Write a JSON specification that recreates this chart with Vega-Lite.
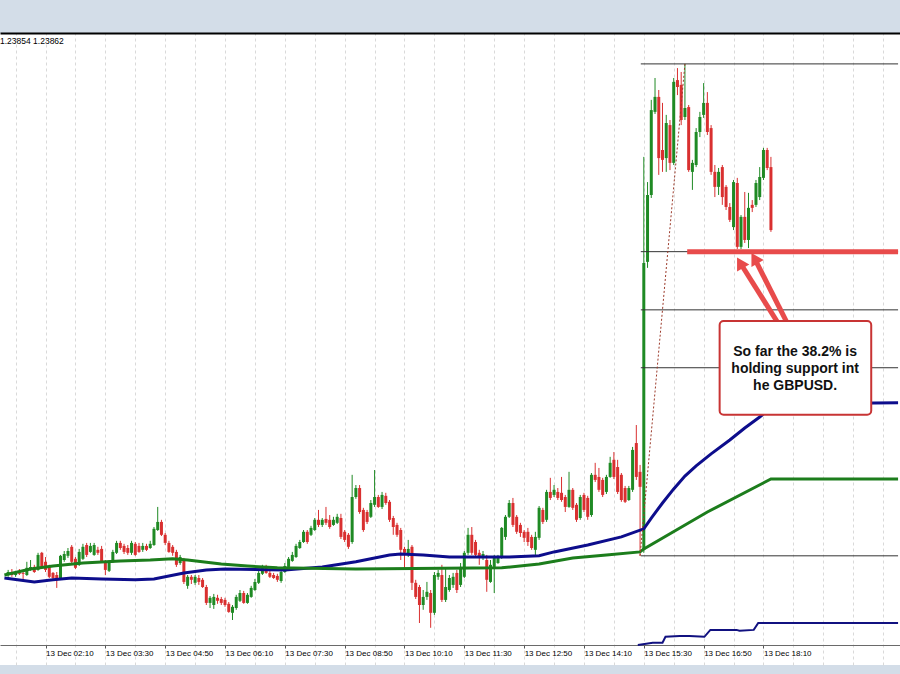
{
  "$schema": "https://vega.github.io/schema/vega-lite/v6.json",
  "width": 900,
  "height": 632,
  "autosize": {"type": "none"},
  "padding": {"left": 0, "top": 33, "right": 0, "bottom": 9},
  "background": "#d3dde8",
  "title": {"text": "1.23854 1.23862", "anchor": "start", "orient": "top", "frame": "group", "offset": -12, "font": "Liberation Sans", "fontSize": 8.5, "fontWeight": "normal", "color": "#000000"},
  "config": {"view": {"stroke": null, "fill": "#ffffff"}},
  "resolve": {"axis": {"x": "independent"}},
  "datasets": {
    "candles": [
      {"t":80,"o":1.22753,"h":1.22770,"l":1.22747,"c":1.22763},
      {"t":85,"o":1.22763,"h":1.22773,"l":1.22747,"c":1.22753},
      {"t":90,"o":1.22753,"h":1.22767,"l":1.22747,"c":1.22760},
      {"t":95,"o":1.22763,"h":1.22773,"l":1.22753,"c":1.22757},
      {"t":100,"o":1.22760,"h":1.22767,"l":1.22737,"c":1.22757},
      {"t":105,"o":1.22753,"h":1.22797,"l":1.22750,"c":1.22777},
      {"t":110,"o":1.22770,"h":1.22803,"l":1.22767,"c":1.22780},
      {"t":115,"o":1.22780,"h":1.22787,"l":1.22760,"c":1.22763},
      {"t":120,"o":1.22770,"h":1.22827,"l":1.22767,"c":1.22820},
      {"t":125,"o":1.22827,"h":1.22830,"l":1.22777,"c":1.22780},
      {"t":130,"o":1.22797,"h":1.22813,"l":1.22763,"c":1.22770},
      {"t":135,"o":1.22780,"h":1.22787,"l":1.22743,"c":1.22747},
      {"t":140,"o":1.22760,"h":1.22763,"l":1.22737,"c":1.22743},
      {"t":145,"o":1.22753,"h":1.22763,"l":1.22710,"c":1.22737},
      {"t":150,"o":1.22740,"h":1.22820,"l":1.22737,"c":1.22817},
      {"t":155,"o":1.22803,"h":1.22833,"l":1.22797,"c":1.22823},
      {"t":160,"o":1.22817,"h":1.22843,"l":1.22810,"c":1.22833},
      {"t":165,"o":1.22847,"h":1.22853,"l":1.22793,"c":1.22797},
      {"t":170,"o":1.22807,"h":1.22813,"l":1.22773,"c":1.22777},
      {"t":175,"o":1.22787,"h":1.22840,"l":1.22783,"c":1.22830},
      {"t":180,"o":1.22807,"h":1.22857,"l":1.22803,"c":1.22847},
      {"t":185,"o":1.22853,"h":1.22860,"l":1.22813,"c":1.22820},
      {"t":190,"o":1.22830,"h":1.22860,"l":1.22827,"c":1.22850},
      {"t":195,"o":1.22820,"h":1.22860,"l":1.22817,"c":1.22853},
      {"t":200,"o":1.22837,"h":1.22847,"l":1.22820,"c":1.22827},
      {"t":205,"o":1.22840,"h":1.22850,"l":1.22793,"c":1.22797},
      {"t":210,"o":1.22797,"h":1.22803,"l":1.22753,"c":1.22770},
      {"t":215,"o":1.22767,"h":1.22803,"l":1.22763,"c":1.22797},
      {"t":220,"o":1.22797,"h":1.22837,"l":1.22793,"c":1.22830},
      {"t":225,"o":1.22827,"h":1.22867,"l":1.22823,"c":1.22860},
      {"t":230,"o":1.22860,"h":1.22867,"l":1.22837,"c":1.22843},
      {"t":235,"o":1.22850,"h":1.22857,"l":1.22823,"c":1.22830},
      {"t":240,"o":1.22843,"h":1.22853,"l":1.22820,"c":1.22827},
      {"t":245,"o":1.22827,"h":1.22867,"l":1.22820,"c":1.22860},
      {"t":250,"o":1.22857,"h":1.22863,"l":1.22817,"c":1.22820},
      {"t":255,"o":1.22850,"h":1.22860,"l":1.22827,"c":1.22830},
      {"t":260,"o":1.22837,"h":1.22860,"l":1.22830,"c":1.22850},
      {"t":265,"o":1.22850,"h":1.22857,"l":1.22833,"c":1.22837},
      {"t":270,"o":1.22843,"h":1.22867,"l":1.22840,"c":1.22857},
      {"t":275,"o":1.22853,"h":1.22913,"l":1.22850,"c":1.22907},
      {"t":280,"o":1.22903,"h":1.22980,"l":1.22900,"c":1.22930},
      {"t":285,"o":1.22930,"h":1.22937,"l":1.22883,"c":1.22887},
      {"t":290,"o":1.22887,"h":1.22893,"l":1.22853,"c":1.22860},
      {"t":295,"o":1.22860,"h":1.22867,"l":1.22827,"c":1.22830},
      {"t":300,"o":1.22847,"h":1.22853,"l":1.22817,"c":1.22827},
      {"t":305,"o":1.22830,"h":1.22837,"l":1.22780,"c":1.22787},
      {"t":310,"o":1.22793,"h":1.22820,"l":1.22787,"c":1.22813},
      {"t":315,"o":1.22803,"h":1.22810,"l":1.22723,"c":1.22730},
      {"t":320,"o":1.22717,"h":1.22753,"l":1.22707,"c":1.22747},
      {"t":325,"o":1.22747,"h":1.22753,"l":1.22723,"c":1.22737},
      {"t":330,"o":1.22727,"h":1.22753,"l":1.22720,"c":1.22747},
      {"t":335,"o":1.22743,"h":1.22753,"l":1.22720,"c":1.22730},
      {"t":340,"o":1.22737,"h":1.22743,"l":1.22710,"c":1.22713},
      {"t":345,"o":1.22713,"h":1.22720,"l":1.22653,"c":1.22660},
      {"t":350,"o":1.22660,"h":1.22683,"l":1.22643,"c":1.22677},
      {"t":355,"o":1.22653,"h":1.22690,"l":1.22640,"c":1.22680},
      {"t":360,"o":1.22677,"h":1.22687,"l":1.22657,"c":1.22667},
      {"t":365,"o":1.22673,"h":1.22680,"l":1.22653,"c":1.22660},
      {"t":370,"o":1.22670,"h":1.22677,"l":1.22647,"c":1.22653},
      {"t":375,"o":1.22657,"h":1.22663,"l":1.22627,"c":1.22630},
      {"t":380,"o":1.22627,"h":1.22653,"l":1.22603,"c":1.22647},
      {"t":385,"o":1.22643,"h":1.22687,"l":1.22637,"c":1.22680},
      {"t":390,"o":1.22667,"h":1.22703,"l":1.22663,"c":1.22693},
      {"t":395,"o":1.22693,"h":1.22700,"l":1.22657,"c":1.22660},
      {"t":400,"o":1.22660,"h":1.22693,"l":1.22657,"c":1.22687},
      {"t":405,"o":1.22680,"h":1.22717,"l":1.22677,"c":1.22710},
      {"t":410,"o":1.22703,"h":1.22740,"l":1.22700,"c":1.22730},
      {"t":415,"o":1.22727,"h":1.22770,"l":1.22723,"c":1.22760},
      {"t":420,"o":1.22757,"h":1.22787,"l":1.22753,"c":1.22780},
      {"t":425,"o":1.22780,"h":1.22787,"l":1.22757,"c":1.22760},
      {"t":430,"o":1.22760,"h":1.22767,"l":1.22743,"c":1.22747},
      {"t":435,"o":1.22753,"h":1.22760,"l":1.22740,"c":1.22743},
      {"t":440,"o":1.22750,"h":1.22757,"l":1.22730,"c":1.22737},
      {"t":445,"o":1.22733,"h":1.22770,"l":1.22727,"c":1.22763},
      {"t":450,"o":1.22763,"h":1.22793,"l":1.22760,"c":1.22783},
      {"t":455,"o":1.22780,"h":1.22813,"l":1.22777,"c":1.22807},
      {"t":460,"o":1.22800,"h":1.22830,"l":1.22797,"c":1.22820},
      {"t":465,"o":1.22813,"h":1.22857,"l":1.22810,"c":1.22850},
      {"t":470,"o":1.22843,"h":1.22870,"l":1.22840,"c":1.22863},
      {"t":475,"o":1.22863,"h":1.22903,"l":1.22860,"c":1.22897},
      {"t":480,"o":1.22897,"h":1.22903,"l":1.22857,"c":1.22863},
      {"t":485,"o":1.22887,"h":1.22917,"l":1.22883,"c":1.22910},
      {"t":490,"o":1.22903,"h":1.22943,"l":1.22900,"c":1.22937},
      {"t":495,"o":1.22937,"h":1.22970,"l":1.22913,"c":1.22920},
      {"t":500,"o":1.22920,"h":1.22943,"l":1.22913,"c":1.22937},
      {"t":505,"o":1.22940,"h":1.22980,"l":1.22920,"c":1.22927},
      {"t":510,"o":1.22937,"h":1.22953,"l":1.22907,"c":1.22913},
      {"t":515,"o":1.22920,"h":1.22947,"l":1.22917,"c":1.22937},
      {"t":520,"o":1.22927,"h":1.22957,"l":1.22923,"c":1.22947},
      {"t":525,"o":1.22943,"h":1.22957,"l":1.22873,"c":1.22880},
      {"t":530,"o":1.22897,"h":1.22903,"l":1.22863,"c":1.22870},
      {"t":535,"o":1.22887,"h":1.22893,"l":1.22840,"c":1.22847},
      {"t":540,"o":1.22863,"h":1.23087,"l":1.22857,"c":1.23013},
      {"t":545,"o":1.23013,"h":1.23053,"l":1.23007,"c":1.23043},
      {"t":550,"o":1.23043,"h":1.23053,"l":1.22957,"c":1.22963},
      {"t":555,"o":1.22970,"h":1.22977,"l":1.22897,"c":1.22903},
      {"t":560,"o":1.22963,"h":1.22970,"l":1.22923,"c":1.22930},
      {"t":565,"o":1.22947,"h":1.23003,"l":1.22943,"c":1.22993},
      {"t":570,"o":1.22987,"h":1.23103,"l":1.22980,"c":1.23013},
      {"t":575,"o":1.23013,"h":1.23020,"l":1.22977,"c":1.22980},
      {"t":580,"o":1.22980,"h":1.23030,"l":1.22973,"c":1.23020},
      {"t":585,"o":1.23017,"h":1.23027,"l":1.22987,"c":1.22993},
      {"t":590,"o":1.22997,"h":1.23003,"l":1.22930,"c":1.22937},
      {"t":595,"o":1.22943,"h":1.22950,"l":1.22887,"c":1.22913},
      {"t":600,"o":1.22920,"h":1.22927,"l":1.22880,"c":1.22887},
      {"t":605,"o":1.22903,"h":1.22910,"l":1.22803,"c":1.22837},
      {"t":610,"o":1.22840,"h":1.22847,"l":1.22770,"c":1.22827},
      {"t":615,"o":1.22820,"h":1.22870,"l":1.22813,"c":1.22840},
      {"t":620,"o":1.22847,"h":1.22853,"l":1.22703,"c":1.22727},
      {"t":625,"o":1.22727,"h":1.22737,"l":1.22673,"c":1.22680},
      {"t":630,"o":1.22713,"h":1.22720,"l":1.22593,"c":1.22653},
      {"t":635,"o":1.22653,"h":1.22703,"l":1.22637,"c":1.22680},
      {"t":640,"o":1.22680,"h":1.22730,"l":1.22670,"c":1.22697},
      {"t":645,"o":1.22693,"h":1.22703,"l":1.22577,"c":1.22627},
      {"t":650,"o":1.22627,"h":1.22763,"l":1.22620,"c":1.22753},
      {"t":655,"o":1.22747,"h":1.22770,"l":1.22737,"c":1.22760},
      {"t":660,"o":1.22753,"h":1.22787,"l":1.22663,"c":1.22670},
      {"t":665,"o":1.22670,"h":1.22777,"l":1.22663,"c":1.22713},
      {"t":670,"o":1.22703,"h":1.22753,"l":1.22697,"c":1.22743},
      {"t":675,"o":1.22720,"h":1.22760,"l":1.22710,"c":1.22747},
      {"t":680,"o":1.22760,"h":1.22770,"l":1.22693,"c":1.22703},
      {"t":685,"o":1.22720,"h":1.22793,"l":1.22713,"c":1.22780},
      {"t":690,"o":1.22747,"h":1.22833,"l":1.22743,"c":1.22827},
      {"t":695,"o":1.22827,"h":1.22910,"l":1.22820,"c":1.22887},
      {"t":700,"o":1.22887,"h":1.22913,"l":1.22820,"c":1.22827},
      {"t":705,"o":1.22863,"h":1.22870,"l":1.22813,"c":1.22820},
      {"t":710,"o":1.22827,"h":1.22837,"l":1.22787,"c":1.22810},
      {"t":715,"o":1.22810,"h":1.22833,"l":1.22803,"c":1.22823},
      {"t":720,"o":1.22803,"h":1.22820,"l":1.22697,"c":1.22737},
      {"t":725,"o":1.22730,"h":1.22803,"l":1.22727,"c":1.22787},
      {"t":730,"o":1.22780,"h":1.22820,"l":1.22693,"c":1.22813},
      {"t":735,"o":1.22793,"h":1.22820,"l":1.22790,"c":1.22813},
      {"t":740,"o":1.22813,"h":1.22913,"l":1.22807,"c":1.22910},
      {"t":745,"o":1.22880,"h":1.22953,"l":1.22870,"c":1.22947},
      {"t":750,"o":1.22947,"h":1.23003,"l":1.22943,"c":1.22993},
      {"t":755,"o":1.22993,"h":1.23010,"l":1.22913,"c":1.22920},
      {"t":760,"o":1.22947,"h":1.22953,"l":1.22890,"c":1.22897},
      {"t":765,"o":1.22920,"h":1.22927,"l":1.22880,"c":1.22893},
      {"t":770,"o":1.22897,"h":1.22903,"l":1.22863,"c":1.22877},
      {"t":775,"o":1.22897,"h":1.22910,"l":1.22850,"c":1.22863},
      {"t":780,"o":1.22880,"h":1.22887,"l":1.22837,"c":1.22843},
      {"t":785,"o":1.22837,"h":1.22897,"l":1.22817,"c":1.22880},
      {"t":790,"o":1.22877,"h":1.22983,"l":1.22870,"c":1.22977},
      {"t":795,"o":1.22970,"h":1.22977,"l":1.22923,"c":1.22930},
      {"t":800,"o":1.22937,"h":1.23037,"l":1.22930,"c":1.23030},
      {"t":805,"o":1.23030,"h":1.23077,"l":1.23003,"c":1.23010},
      {"t":810,"o":1.23020,"h":1.23053,"l":1.23013,"c":1.23037},
      {"t":815,"o":1.23030,"h":1.23043,"l":1.23003,"c":1.23010},
      {"t":820,"o":1.23027,"h":1.23080,"l":1.22997,"c":1.23003},
      {"t":825,"o":1.23013,"h":1.23020,"l":1.22963,"c":1.22980},
      {"t":830,"o":1.22980,"h":1.23097,"l":1.22977,"c":1.23037},
      {"t":835,"o":1.23037,"h":1.23043,"l":1.22970,"c":1.22977},
      {"t":840,"o":1.22987,"h":1.22993,"l":1.22930,"c":1.22937},
      {"t":845,"o":1.22943,"h":1.23020,"l":1.22937,"c":1.23013},
      {"t":850,"o":1.23020,"h":1.23027,"l":1.22963,"c":1.22970},
      {"t":855,"o":1.23010,"h":1.23017,"l":1.22937,"c":1.22947},
      {"t":860,"o":1.22953,"h":1.23093,"l":1.22947,"c":1.23087},
      {"t":865,"o":1.23087,"h":1.23127,"l":1.23063,"c":1.23070},
      {"t":870,"o":1.23080,"h":1.23110,"l":1.23030,"c":1.23037},
      {"t":875,"o":1.23070,"h":1.23077,"l":1.23013,"c":1.23020},
      {"t":880,"o":1.23030,"h":1.23087,"l":1.23023,"c":1.23080},
      {"t":885,"o":1.23080,"h":1.23147,"l":1.23077,"c":1.23127},
      {"t":890,"o":1.23137,"h":1.23163,"l":1.23073,"c":1.23080},
      {"t":895,"o":1.23113,"h":1.23137,"l":1.23023,"c":1.23030},
      {"t":900,"o":1.23087,"h":1.23093,"l":1.22997,"c":1.23003},
      {"t":905,"o":1.23043,"h":1.23050,"l":1.22993,"c":1.22997},
      {"t":910,"o":1.23003,"h":1.23050,"l":1.23000,"c":1.23043},
      {"t":915,"o":1.23037,"h":1.23180,"l":1.23030,"c":1.23170},
      {"t":920,"o":1.23193,"h":1.23253,"l":1.23070,"c":1.23080},
      {"t":925,"o":1.23097,"h":1.23120,"l":1.22817,"c":1.23047},
      {"t":930,"o":1.22837,"h":1.24147,"l":1.22827,"c":1.23793},
      {"t":935,"o":1.23797,"h":1.24063,"l":1.23777,"c":1.24020},
      {"t":940,"o":1.24020,"h":1.24337,"l":1.24010,"c":1.24303},
      {"t":945,"o":1.24297,"h":1.24410,"l":1.24290,"c":1.24347},
      {"t":950,"o":1.24347,"h":1.24370,"l":1.24087,"c":1.24143},
      {"t":955,"o":1.24170,"h":1.24327,"l":1.24097,"c":1.24137},
      {"t":960,"o":1.24143,"h":1.24287,"l":1.24097,"c":1.24260},
      {"t":965,"o":1.24253,"h":1.24270,"l":1.24103,"c":1.24127},
      {"t":970,"o":1.24127,"h":1.24410,"l":1.24120,"c":1.24397},
      {"t":975,"o":1.24403,"h":1.24443,"l":1.24353,"c":1.24380},
      {"t":980,"o":1.24387,"h":1.24430,"l":1.24253,"c":1.24270},
      {"t":985,"o":1.24280,"h":1.24457,"l":1.24270,"c":1.24310},
      {"t":990,"o":1.24313,"h":1.24320,"l":1.24097,"c":1.24103},
      {"t":995,"o":1.24097,"h":1.24137,"l":1.24037,"c":1.24127},
      {"t":1000,"o":1.24120,"h":1.24243,"l":1.24113,"c":1.24230},
      {"t":1005,"o":1.24230,"h":1.24297,"l":1.24213,"c":1.24280},
      {"t":1010,"o":1.24287,"h":1.24393,"l":1.24277,"c":1.24327},
      {"t":1015,"o":1.24327,"h":1.24363,"l":1.24220,"c":1.24230},
      {"t":1020,"o":1.24243,"h":1.24253,"l":1.24087,"c":1.24097},
      {"t":1025,"o":1.24097,"h":1.24120,"l":1.24013,"c":1.24047},
      {"t":1030,"o":1.24047,"h":1.24110,"l":1.24020,"c":1.24097},
      {"t":1035,"o":1.24113,"h":1.24120,"l":1.23987,"c":1.24013},
      {"t":1040,"o":1.24047,"h":1.24053,"l":1.23970,"c":1.23980},
      {"t":1045,"o":1.23980,"h":1.23993,"l":1.23930,"c":1.23937},
      {"t":1050,"o":1.23913,"h":1.24070,"l":1.23903,"c":1.24063},
      {"t":1055,"o":1.24060,"h":1.24077,"l":1.23840,"c":1.23847},
      {"t":1060,"o":1.23847,"h":1.23953,"l":1.23840,"c":1.23947},
      {"t":1065,"o":1.23947,"h":1.24030,"l":1.23860,"c":1.23870},
      {"t":1070,"o":1.23870,"h":1.24027,"l":1.23843,"c":1.23977},
      {"t":1075,"o":1.23987,"h":1.24003,"l":1.23963,"c":1.23977},
      {"t":1080,"o":1.23987,"h":1.24070,"l":1.23980,"c":1.24060},
      {"t":1085,"o":1.24013,"h":1.24113,"l":1.24003,"c":1.24080},
      {"t":1090,"o":1.24077,"h":1.24177,"l":1.24070,"c":1.24170},
      {"t":1095,"o":1.24170,"h":1.24177,"l":1.24103,"c":1.24110},
      {"t":1100,"o":1.24113,"h":1.24147,"l":1.23897,"c":1.23903}
    ],
    "blueMA": [
      {"t":75,"p":1.22743},{"t":115,"p":1.22730},{"t":140,"p":1.22737},{"t":165,"p":1.22743},
      {"t":205,"p":1.22740},{"t":250,"p":1.22737},{"t":275,"p":1.22740},{"t":295,"p":1.22750},
      {"t":315,"p":1.22760},{"t":345,"p":1.22770},{"t":370,"p":1.22773},{"t":450,"p":1.22770},
      {"t":500,"p":1.22780},{"t":545,"p":1.22797},{"t":590,"p":1.22820},{"t":605,"p":1.22823},
      {"t":635,"p":1.22820},{"t":670,"p":1.22813},{"t":750,"p":1.22813},{"t":790,"p":1.22817},
      {"t":810,"p":1.22830},{"t":855,"p":1.22853},{"t":900,"p":1.22880},{"t":930,"p":1.22907},
      {"t":940,"p":1.22943},{"t":955,"p":1.22993},{"t":970,"p":1.23040},{"t":985,"p":1.23083},
      {"t":1000,"p":1.23117},{"t":1020,"p":1.23157},{"t":1045,"p":1.23203},{"t":1065,"p":1.23243},
      {"t":1085,"p":1.23280},{"t":1100,"p":1.23310},{"t":1115,"p":1.23323},{"t":1270,"p":1.23327}
    ],
    "greenMA": [
      {"t":75,"p":1.22753},{"t":110,"p":1.22773},{"t":140,"p":1.22783},{"t":180,"p":1.22793},
      {"t":230,"p":1.22800},{"t":270,"p":1.22803},{"t":300,"p":1.22807},{"t":320,"p":1.22803},
      {"t":365,"p":1.22790},{"t":400,"p":1.22783},{"t":440,"p":1.22777},{"t":545,"p":1.22773},
      {"t":740,"p":1.22777},{"t":790,"p":1.22790},{"t":835,"p":1.22810},{"t":880,"p":1.22820},
      {"t":925,"p":1.22830},{"t":930,"p":1.22840},{"t":1015,"p":1.22963},{"t":1100,"p":1.23073},
      {"t":1270,"p":1.23073}
    ],
    "lowLine": [
      {"t":922,"p":1.22520},{"t":931,"p":1.22523},{"t":942,"p":1.22527},{"t":955,"p":1.22527},
      {"t":959,"p":1.22547},{"t":978,"p":1.22550},{"t":991,"p":1.22550},{"t":1011,"p":1.22547},
      {"t":1019,"p":1.22570},{"t":1054,"p":1.22570},{"t":1058,"p":1.22567},{"t":1077,"p":1.22570},
      {"t":1083,"p":1.22593},{"t":1270,"p":1.22593}
    ],
    "fib": [
      {"level":"0.0","p":1.24457},
      {"level":"38.2","p":1.23831},
      {"level":"50.0","p":1.23637},
      {"level":"61.8","p":1.23444},
      {"level":"100.0","p":1.22817}
    ],
    "trend": [{"t":925,"p":1.22817},{"t":985,"p":1.24457}],
    "support": [{"t0":988,"t1":1270,"p":1.23831}],
    "arrows": [
      {"t0":1111,"p0":1.23587,"t1":1058.8,"p1":1.23794},
      {"t0":1123,"p0":1.23587,"t1":1078,"p1":1.23809}
    ],
    "box": [{"t0":1031.4,"t1":1234.1,"p0":1.23600,"p1":1.23287}],
    "note": [
      {"t":1132.3,"p":1.23497,"text":"So far the 38.2% is"},
      {"t":1132.3,"p":1.23440,"text":"holding support int"},
      {"t":1132.3,"p":1.23383,"text":"he GBPUSD."}
    ]
  },
  "layer": [
    {
      "data": {"name": "candles"},
      "mark": {"type": "rule", "strokeWidth": 1},
      "encoding": {
        "x": {"field": "t", "type": "quantitative", "scale": {"domain": [75.8, 1265.9], "nice": false, "zero": false},
          "axis": {"orient": "bottom", "offset": -20, "values": [50,130,210,290,370,450,530,610,690,770,850,930,1010,1090],
            "labelExpr": "timeFormat(datetime(2022, 11, 13, 0, datum.value), '%d %b %H:%M')",
            "grid": false, "domainColor": "#6a6a6a", "domainWidth": 1, "tickColor": "#555555", "tickSize": 3,
            "labelFont": "Liberation Sans", "labelFontSize": 8, "labelColor": "#000000", "labelAlign": "left", "labelBaseline": "top",
            "labelPadding": 1, "labelOffset": 0, "labelOverlap": false, "labelFlush": false, "labelBound": false, "title": null}},
        "y": {"field": "l", "type": "quantitative", "scale": {"domain": [1.22453, 1.2456], "nice": false, "zero": false},
          "axis": {"orient": "left", "labels": false, "ticks": false, "domain": false, "grid": true, "gridColor": "#d9d9d9", "gridDash": [3, 3], "gridWidth": 1, "title": null,
            "values": [1.24537,1.24431,1.24326,1.24221,1.24115,1.24010,1.23905,1.23799,1.23694,1.23589,1.23483,1.23378,1.23273,1.23167,1.23062,1.22957,1.22851,1.22746,1.22641,1.22535]}},
        "y2": {"field": "h"},
        "color": {"condition": {"test": "datum.c >= datum.o", "value": "#1f8a24"}, "value": "#d93030"}
      }
    },
    {
      "data": {"name": "candles"},
      "mark": {"type": "bar", "size": 3},
      "encoding": {
        "x": {"field": "t", "type": "quantitative", "scale": {"domain": [75.8, 1265.9], "nice": false, "zero": false},
          "axis": {"orient": "top", "values": [50,90,130,170,210,250,290,330,370,410,450,490,530,570,610,650,690,730,770,810,850,890,930,970,1010,1050,1090,1130,1170,1210,1250],
            "labels": false, "ticks": false, "domain": true, "domainColor": "#000000", "domainWidth": 2,
            "grid": true, "gridColor": "#d9d9d9", "gridDash": [3, 3], "gridWidth": 1, "title": null}},
        "y": {"field": "o", "type": "quantitative", "scale": {"domain": [1.22453, 1.2456], "nice": false, "zero": false}, "axis": null},
        "y2": {"field": "c"},
        "color": {"condition": {"test": "datum.c >= datum.o", "value": "#1f8a24"}, "value": "#d93030"}
      }
    },
    {
      "data": {"name": "blueMA"},
      "mark": {"type": "line", "color": "#0d0d8c", "strokeWidth": 3},
      "encoding": {
        "x": {"field": "t", "type": "quantitative", "scale": {"domain": [75.8, 1265.9], "nice": false, "zero": false}, "axis": null},
        "y": {"field": "p", "type": "quantitative", "scale": {"domain": [1.22453, 1.2456], "nice": false, "zero": false}, "axis": null}
      }
    },
    {
      "data": {"name": "greenMA"},
      "mark": {"type": "line", "color": "#1c7d1c", "strokeWidth": 3},
      "encoding": {
        "x": {"field": "t", "type": "quantitative", "scale": {"domain": [75.8, 1265.9], "nice": false, "zero": false}, "axis": null},
        "y": {"field": "p", "type": "quantitative", "scale": {"domain": [1.22453, 1.2456], "nice": false, "zero": false}, "axis": null}
      }
    },
    {
      "data": {"name": "lowLine"},
      "mark": {"type": "line", "color": "#111180", "strokeWidth": 2},
      "encoding": {
        "x": {"field": "t", "type": "quantitative", "scale": {"domain": [75.8, 1265.9], "nice": false, "zero": false}, "axis": null},
        "y": {"field": "p", "type": "quantitative", "scale": {"domain": [1.22453, 1.2456], "nice": false, "zero": false}, "axis": null}
      }
    },
    {
      "data": {"name": "fib"},
      "mark": {"type": "rule", "color": "#333333", "strokeWidth": 1},
      "encoding": {
        "x": {"datum": 926, "type": "quantitative", "scale": {"domain": [75.8, 1265.9], "nice": false, "zero": false}, "axis": null},
        "x2": {"datum": 1270},
        "y": {"field": "p", "type": "quantitative", "scale": {"domain": [1.22453, 1.2456], "nice": false, "zero": false}, "axis": null}
      }
    },
    {
      "data": {"name": "trend"},
      "mark": {"type": "line", "color": "#9c3a2a", "strokeWidth": 1, "strokeDash": [2, 2]},
      "encoding": {
        "x": {"field": "t", "type": "quantitative", "scale": {"domain": [75.8, 1265.9], "nice": false, "zero": false}, "axis": null},
        "y": {"field": "p", "type": "quantitative", "scale": {"domain": [1.22453, 1.2456], "nice": false, "zero": false}, "axis": null}
      }
    },
    {
      "data": {"name": "support"},
      "mark": {"type": "rule", "color": "#e84b4b", "strokeWidth": 5},
      "encoding": {
        "x": {"field": "t0", "type": "quantitative", "scale": {"domain": [75.8, 1265.9], "nice": false, "zero": false}, "axis": null},
        "x2": {"field": "t1"},
        "y": {"field": "p", "type": "quantitative", "scale": {"domain": [1.22453, 1.2456], "nice": false, "zero": false}, "axis": null}
      }
    },
    {
      "data": {"name": "arrows"},
      "mark": {"type": "rule", "color": "#e84b4b", "strokeWidth": 5},
      "encoding": {
        "x": {"field": "t0", "type": "quantitative", "scale": {"domain": [75.8, 1265.9], "nice": false, "zero": false}, "axis": null},
        "x2": {"field": "t1"},
        "y": {"field": "p0", "type": "quantitative", "scale": {"domain": [1.22453, 1.2456], "nice": false, "zero": false}, "axis": null},
        "y2": {"field": "p1"}
      }
    },
    {
      "data": {"name": "arrows"},
      "mark": {"type": "point", "shape": "triangle-up", "filled": true, "size": 200, "angle": 330, "color": "#e84b4b", "opacity": 1},
      "encoding": {
        "x": {"field": "t1", "type": "quantitative", "scale": {"domain": [75.8, 1265.9], "nice": false, "zero": false}, "axis": null},
        "y": {"field": "p1", "type": "quantitative", "scale": {"domain": [1.22453, 1.2456], "nice": false, "zero": false}, "axis": null}
      }
    },
    {
      "data": {"name": "box"},
      "mark": {"type": "rect", "fill": "#ffffff", "stroke": "#c83434", "strokeWidth": 2, "cornerRadius": 4},
      "encoding": {
        "x": {"field": "t0", "type": "quantitative", "scale": {"domain": [75.8, 1265.9], "nice": false, "zero": false}, "axis": null},
        "x2": {"field": "t1"},
        "y": {"field": "p0", "type": "quantitative", "scale": {"domain": [1.22453, 1.2456], "nice": false, "zero": false}, "axis": null},
        "y2": {"field": "p1"}
      }
    },
    {
      "data": {"name": "note"},
      "mark": {"type": "text", "font": "Liberation Sans", "fontSize": 14, "fontWeight": "bold", "color": "#111111", "align": "center", "baseline": "middle"},
      "encoding": {
        "x": {"field": "t", "type": "quantitative", "scale": {"domain": [75.8, 1265.9], "nice": false, "zero": false}, "axis": null},
        "y": {"field": "p", "type": "quantitative", "scale": {"domain": [1.22453, 1.2456], "nice": false, "zero": false}, "axis": null},
        "text": {"field": "text"}
      }
    }
  ]
}
